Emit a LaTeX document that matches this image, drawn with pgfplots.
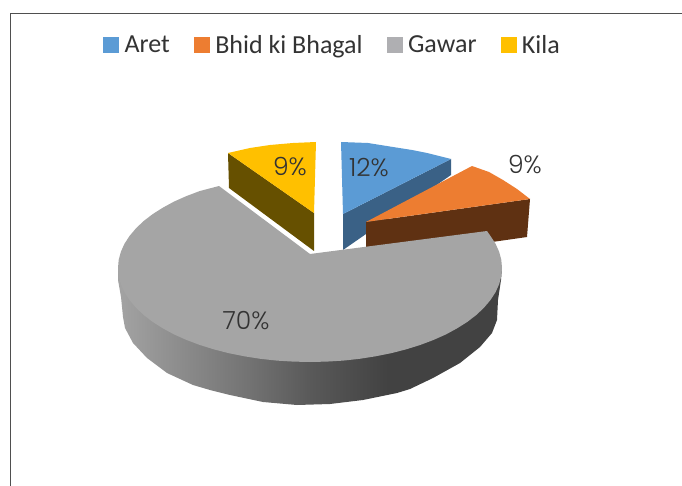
\documentclass[border=0pt]{standalone}
\usepackage{fontspec}
\usepackage{pgfplots}
\pgfplotsset{compat=1.18}
\setmainfont{Carlito}
\newfontfamily\labfont[UprightFont={* Light}]{Poppins}

\definecolor{aret}{HTML}{5B9BD5}
\definecolor{aretside}{HTML}{3A6186}
\definecolor{bhid}{HTML}{ED7D31}
\definecolor{bhidside}{HTML}{5F3112}
\definecolor{gawar}{HTML}{A5A5A5}
\definecolor{gawarkey}{HTML}{AFAFB2}
\definecolor{kila}{HTML}{FFC000}
\definecolor{kilaside}{HTML}{665000}
\definecolor{frame}{HTML}{4F4F4F}
\definecolor{txt}{HTML}{333333}

% side of the big slice, dark towards the right
\pgfdeclarehorizontalshading{greyside}{100bp}{
  color(0bp)=(black!36!white);
  color(25bp)=(black!36!white);
  color(42bp)=(black!55!white);
  color(50bp)=(black!65!white);
  color(60bp)=(black!74!white);
  color(75bp)=(black!74!white);
  color(100bp)=(black!74!white)}

\newcommand{\lab}[3]{\node[text=txt,font=\labfont\fontsize{25}{25}\selectfont] at (axis cs:#1,#2) {#3\%};}

\begin{document}
\begin{tikzpicture}
\useasboundingbox (0,0) rectangle (682pt,486pt);
\begin{axis}[
  at={(0,0)},anchor=south west,
  scale only axis,
  width=682pt,
  height=486pt,
  xmin=0, xmax=682,
  ymin=0, ymax=486,
  y dir=reverse,
  axis lines=none,
  legend columns=4,
  legend style={
    at={(axis cs:103,45)},anchor=west,draw=none,fill=none,
    font=\fontsize{26}{26}\selectfont,text=txt,inner sep=0pt,
    /tikz/every even column/.append style={column sep=22pt}},
  legend image code/.code={\fill[#1] (0pt,-7.5pt) rectangle (15pt,7.5pt);\path (19pt,0pt);},
  no markers,
]
% frame
\addplot[frame,line width=1.4pt,forget plot] coordinates {(10.5,486) (10.5,13.7) (682,13.7)};

% Kila
\addplot[draw=none,fill=kilaside,forget plot] coordinates {(228,153) (314,213) (314,251) (229,188)} -- cycle;
\addplot[draw=none,fill=kila,forget plot] coordinates {(228,153) (250,148) (270,145) (293,143) (316,142) (314,213)} -- cycle;

% Aret
\addplot[draw=none,fill=aretside,forget plot] coordinates {(343,214) (451,159) (451,175) (343,250)} -- cycle;
\addplot[draw=none,fill=aret,forget plot] coordinates {(341,142) (368,143) (393,147) (412,150) (427,153) (451,159) (343,214)} -- cycle;

% Bhid ki Bhagal
\addplot[draw=none,fill=bhidside,forget plot] coordinates {(366,222) (530,199) (527,237) (366,260)} -- cycle;
\addplot[draw=none,fill=bhid,forget plot] coordinates {(472,166) (489,172) (503,180) (517,189) (530,199) (366,222)} -- cycle;

% Gawar
\addplot[draw=none,shade,shading=greyside,forget plot] coordinates {
  (118,268) (118,280) (121,297) (123,317) (125,328) (133,343) (147,358) (167,373) (193,385)
  (210,390) (230,395) (263,402) (297,405) (330,404) (363,400) (397,393) (410,389)
  (433,378) (460,363) (480,347) (492,333) (497,320) (498,300) (501,280) (502,267)} -- cycle;
\addplot[draw=none,fill=gawar,forget plot] coordinates {
  (219,186) (199.9,191) (186.6,196) (174.2,201.5) (163,207.6) (152.7,214.1) (143.7,221)
  (136,228.3) (129.6,235.9) (124.5,243.7) (120.9,251.7) (118.7,259.8) (118,268)
  (118.7,276.2) (120.9,284.3) (124.5,292.3) (129.6,300.1) (136,307.7) (143.7,315)
  (152.7,321.9) (163,328.4) (174.2,334.5) (186.6,340) (199.9,345) (214,349.4) (228.9,353.2)
  (244.3,356.3) (260.3,358.8) (276.7,360.6) (293.3,361.6) (310,362) (326.7,361.6)
  (343.3,360.6) (359.7,358.8) (375.7,356.3) (391.1,353.2) (406,349.4) (420.1,345)
  (433.4,340) (445.8,334.5) (457,328.4) (467.3,321.9) (476.3,315) (484,307.7)
  (490.4,300.1) (495.5,292.3) (499.1,284.3) (501.3,276.2) (502,268) (501.3,259.8)
  (499.1,251.7) (495.5,243.7) (490.4,235.9) (487,231)
  (310,254)} -- cycle;

\addlegendimage{aret}
\addlegendimage{bhid}
\addlegendimage{gawarkey}
\addlegendimage{kila}
\legend{Aret,Bhid ki Bhagal,Gawar,Kila}

\lab{369}{168}{12}
\lab{290}{167}{9}
\lab{525}{165}{9}
\lab{246}{321}{70}
\end{axis}
\end{tikzpicture}
\end{document}
